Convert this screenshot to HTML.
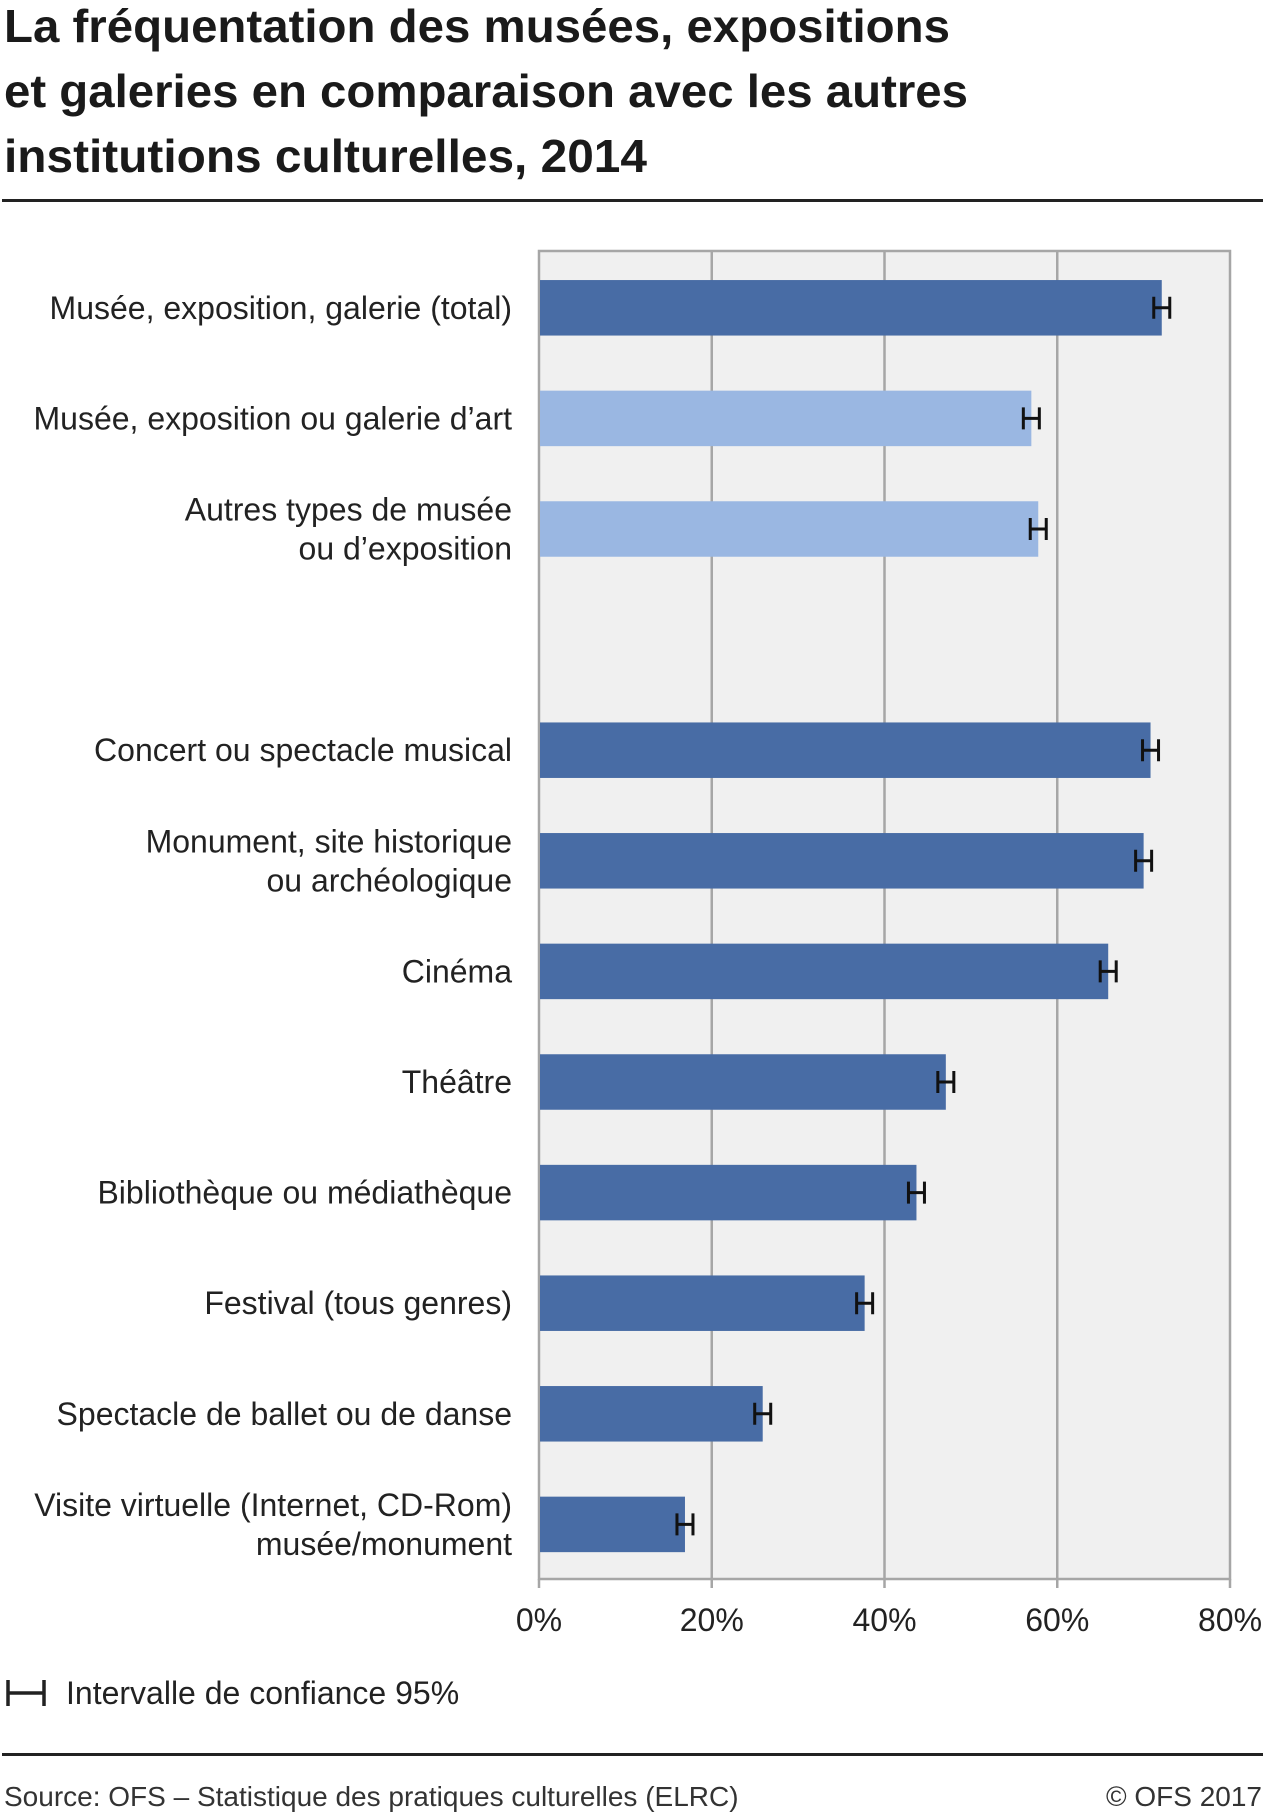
<!DOCTYPE html>
<html><head><meta charset="utf-8"><style>
html,body{margin:0;padding:0;background:#fff;}
svg{display:block;font-family:"Liberation Sans",sans-serif;}
</style></head><body>
<svg id="chart" width="1267" height="1818" viewBox="0 0 1267 1818">
<g font-weight="bold" font-size="46" fill="#1a1a1a">
<text x="4" y="42" textLength="946" lengthAdjust="spacingAndGlyphs">La fréquentation des musées, expositions</text>
<text x="4" y="107" textLength="964" lengthAdjust="spacingAndGlyphs">et galeries en comparaison avec les autres</text>
<text x="4" y="172" textLength="643" lengthAdjust="spacingAndGlyphs">institutions culturelles, 2014</text>
</g>
<rect x="2" y="199" width="1261" height="3" fill="#222"/>
<rect x="539" y="251" width="691" height="1328" fill="#f0f0f0"/>
<g id="grid"></g>
<g id="bars"></g>
<g id="labels" font-size="32" fill="#222" text-anchor="end"></g>
<g id="ticks" font-size="32" fill="#222" text-anchor="middle"></g>
<g>
<path d="M8 1680 V1706 M44 1680 V1706 M8 1693 H44" stroke="#222" stroke-width="3.5" fill="none"/>
<text x="66" y="1704" font-size="32" fill="#222">Intervalle de confiance 95%</text>
</g>
<rect x="2" y="1753" width="1261" height="3" fill="#222"/>
<text x="4" y="1806" font-size="28" fill="#333">Source: OFS – Statistique des pratiques culturelles (ELRC)</text>
<text x="1262" y="1806" font-size="28" fill="#333" text-anchor="end">© OFS 2017</text>
</svg>
<script>
const categories = [["Musée, exposition, galerie (total)"],["Musée, exposition ou galerie d’art"],["Autres types de musée","ou d’exposition"],null,["Concert ou spectacle musical"],["Monument, site historique","ou archéologique"],["Cinéma"],["Théâtre"],["Bibliothèque ou médiathèque"],["Festival (tous genres)"],["Spectacle de ballet ou de danse"],["Visite virtuelle (Internet, CD-Rom)","musée/monument"]];
const values = [72.1, 57.0, 57.8, null, 70.8, 70.0, 65.9, 47.1, 43.7, 37.7, 25.9, 16.9];
const highlight = [true, false, false, null, true, true, true, true, true, true, true, true];
const tickValues = [0, 20, 40, 60, 80];
const tickLabels = ["0%", "20%", "40%", "60%", "80%"];
const NS = "http://www.w3.org/2000/svg";
const x0 = 539, x1 = 1230, yTop = 251, yBottom = 1579, xMax = 80;
const xs = v => x0 + (v / xMax) * (x1 - x0);
const rowH = 110.6, firstC = 307.8, barH = 55.5;
const yc = i => firstC + i * rowH;
function mk(tag, attrs, parent) { const e = document.createElementNS(NS, tag); for (const k in attrs) e.setAttribute(k, attrs[k]); parent.appendChild(e); return e; }
const gridG = document.getElementById('grid'), barsG = document.getElementById('bars'), labelsG = document.getElementById('labels'), ticksG = document.getElementById('ticks');
tickValues.forEach((t, i) => {
  const x = xs(t);
  if (t > 0 && t < xMax) {
    const g = mk('line', {x1: x, x2: x, y1: yTop, y2: yBottom, stroke: '#a6a6a6', 'stroke-width': 2.5}, gridG);
    
    
  }
  const tm = mk('line', {x1: x, x2: x, y1: yBottom, y2: yBottom + 9, stroke: '#a6a6a6', 'stroke-width': 2.5}, ticksG);
  
  
  const tl = mk('text', {x: x, y: 1631}, ticksG);
  tl.textContent = tickLabels[i];
  
  
});
const frame = mk('rect', {x: x0, y: yTop, width: x1 - x0, height: yBottom - yTop, fill: 'none', stroke: '#a6a6a6', 'stroke-width': 2.5}, gridG);


values.forEach((v, i) => {
  if (v === null) return;
  const c = yc(i), xe = xs(v);
  const r = mk('rect', {x: x0 + 1, y: c - barH / 2, width: xe - x0 - 1, height: barH, fill: highlight[i] ? '#486ca5' : '#9ab7e2'}, barsG);
  
  
  const eb = mk('path', {d: `M${xe - 8} ${c - 11} V${c + 11} M${xe + 8} ${c - 11} V${c + 11} M${xe - 8} ${c} H${xe + 8}`, stroke: '#111', 'stroke-width': 3, fill: 'none'}, barsG);
  
  
  const lines = categories[i];
  const t = mk('text', {x: 512, y: 0}, labelsG);
  
  
  lines.forEach((ln, k) => {
    const y = c + 11 + (k - (lines.length - 1) / 2) * 39;
    const s = mk('tspan', {x: 512, y: y}, t);
    s.textContent = ln;
  });
});
</script>
</body></html>
